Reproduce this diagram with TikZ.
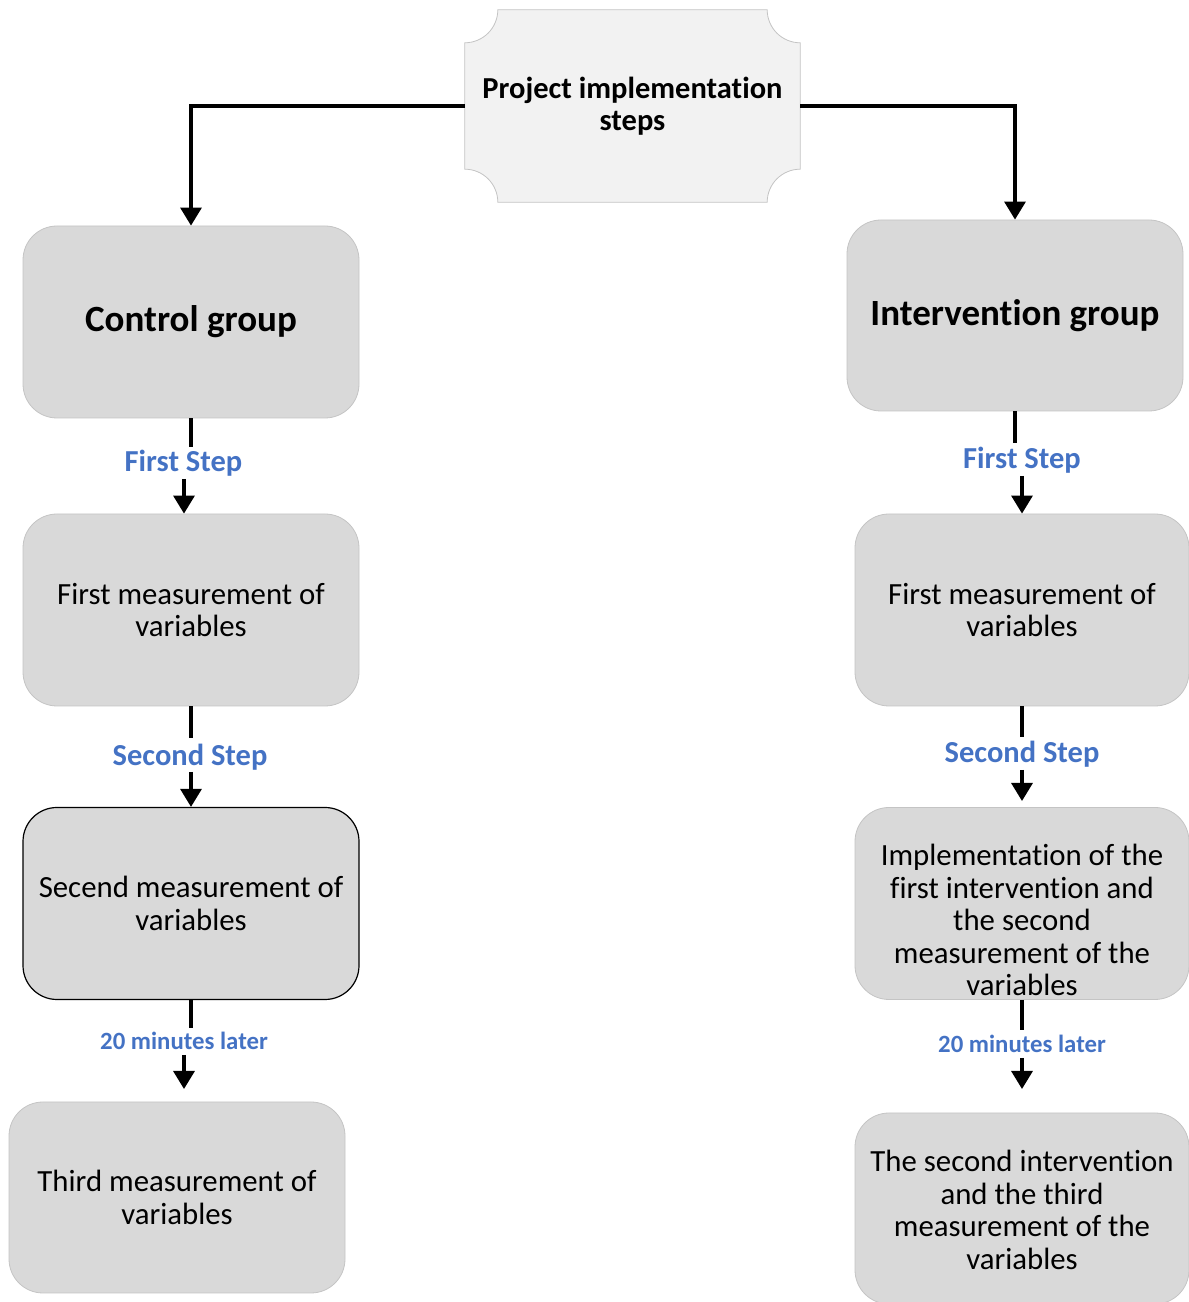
\documentclass[tikz,border=0pt]{standalone}
\usepackage{fontspec}
\setmainfont{Carlito}[RawFeature={-liga;-clig;-dlig;-hlig;-calt}]
\usetikzlibrary{arrows.meta}
\definecolor{boxgray}{HTML}{D9D9D9}
\definecolor{topgray}{HTML}{F2F2F2}
\definecolor{edgegray}{HTML}{C4C4C4}
\definecolor{stepblue}{HTML}{4472C4}
\tikzset{
  x=1pt, y=1pt,
  grpbox/.style={rectangle, rounded corners=34pt, fill=boxgray, draw=edgegray, line width=0.8pt,
    minimum width=336pt, minimum height=192pt, align=center, inner sep=0pt},
  bodytxt/.style={font=\fontsize{30.8}{32.5}\selectfont},
  grptxt/.style={font=\fontsize{37}{40}\selectfont\bfseries},
  steplbl/.style={text=stepblue, font=\fontsize{30.5}{32}\selectfont\bfseries, inner sep=0pt},
  minlbl/.style={text=stepblue, font=\fontsize{24.8}{26}\selectfont\bfseries, inner sep=0pt},
  conn/.style={line width=3.2pt, black},
  arr/.style={conn, -{Triangle[width=21pt,length=18pt]}},
}
\begin{document}
\begin{tikzpicture}
\useasboundingbox (0,0) rectangle (1189,1302);
% top node (concave-corner plaque)
\node[minimum width=335pt, minimum height=192pt, inner sep=0pt, align=center,
  font=\fontsize{30.5}{32}\selectfont\bfseries] (top) at (632.5,1196) {Project implementation\\steps};
\def\rr{33}
\path[fill=topgray, draw=edgegray, line width=0.8pt]
  ([xshift=\rr pt]top.north west) -- ([xshift=-\rr pt]top.north east)
  arc[start angle=180, end angle=270, radius=\rr pt]
  -- ([yshift=\rr pt]top.south east)
  arc[start angle=90, end angle=180, radius=\rr pt]
  -- ([xshift=\rr pt]top.south west)
  arc[start angle=0, end angle=90, radius=\rr pt]
  -- ([yshift=-\rr pt]top.north west)
  arc[start angle=270, end angle=360, radius=\rr pt] -- cycle;
\node[align=center, font=\fontsize{30.5}{32}\selectfont\bfseries] at (top.center) {Project implementation\\steps};

% group boxes
\node[grpbox, grptxt] (cg) at (191,980) {Control group};
\node[grpbox, grptxt, minimum height=191pt] (ig) at (1015,986.5) {Intervention group};

% left column
\node[grpbox, bodytxt] (lf1) at (191,692) {First measurement of\\variables};
\node[grpbox, bodytxt, draw=black, line width=1.2pt] (ls2) at (191,398.5) {Secend measurement of\\variables};
\node[grpbox, bodytxt, minimum height=191pt] (l3) at (177,104.5) {Third measurement of\\variables};

% right column
\node[grpbox, bodytxt, minimum width=334pt] (rf1) at (1022,692) {First measurement of\\variables};
\node[grpbox, minimum width=334pt] (ri2) at (1022,398.5) {};
\node[bodytxt, align=center, inner sep=0pt] (ri2t) at (1022,382) {Implementation of the\\first intervention and\\the second\\measurement of the\\variables};
\node[grpbox, minimum width=334pt, minimum height=191pt] (r3) at (1022,93.5) {};
\node[bodytxt, align=center, inner sep=0pt] (r3t) at (1022,92) {The second intervention\\and the third\\measurement of the\\variables};

% top connectors
\draw[arr] (top.west) -| (cg.north);
\draw[arr] (top.east) -| (ig.north);

% left chain
\node[steplbl] (l1) at (183.5,839) {First Step};
\coordinate (c1a) at (191,855);
\coordinate (c1b) at (184,823);
\draw[conn] (cg.south) -- (c1a);
\draw[arr] (c1b) -- (c1b |- lf1.north);

\node[steplbl] (l2) at (190,545) {Second Step};
\coordinate (c2a) at (191,564);
\coordinate (c2b) at (191,530);
\draw[conn] (lf1.south) -- (c2a);
\draw[arr] (c2b) -- (ls2.north);

\node[minlbl] (l3lbl) at (184,261) {20 minutes later};
\coordinate (c3a) at (191,274);
\coordinate (c3b) at (184,247);
\coordinate (c3c) at (184,213);
\draw[conn] (ls2.south) -- (c3a);
\draw[arr] (c3b) -- (c3c);

% right chain
\node[steplbl] (r1) at (1022,842) {First Step};
\coordinate (d1a) at (1015,859);
\coordinate (d1b) at (1022,826);
\draw[conn] (ig.south) -- (d1a);
\draw[arr] (d1b) -- (d1b |- rf1.north);

\node[steplbl] (r2) at (1022,548) {Second Step};
\coordinate (d2a) at (1022,565);
\coordinate (d2b) at (1022,532);
\coordinate (d2c) at (1022,501);
\draw[conn] (rf1.south) -- (d2a);
\draw[arr] (d2b) -- (d2c);

\node[minlbl] (r3lbl) at (1022,258) {20 minutes later};
\coordinate (d3a) at (1022,272);
\coordinate (d3b) at (1022,244);
\coordinate (d3c) at (1022,213);
\draw[conn] (ri2.south) -- (d3a);
\draw[arr] (d3b) -- (d3c);
\end{tikzpicture}
\end{document}
